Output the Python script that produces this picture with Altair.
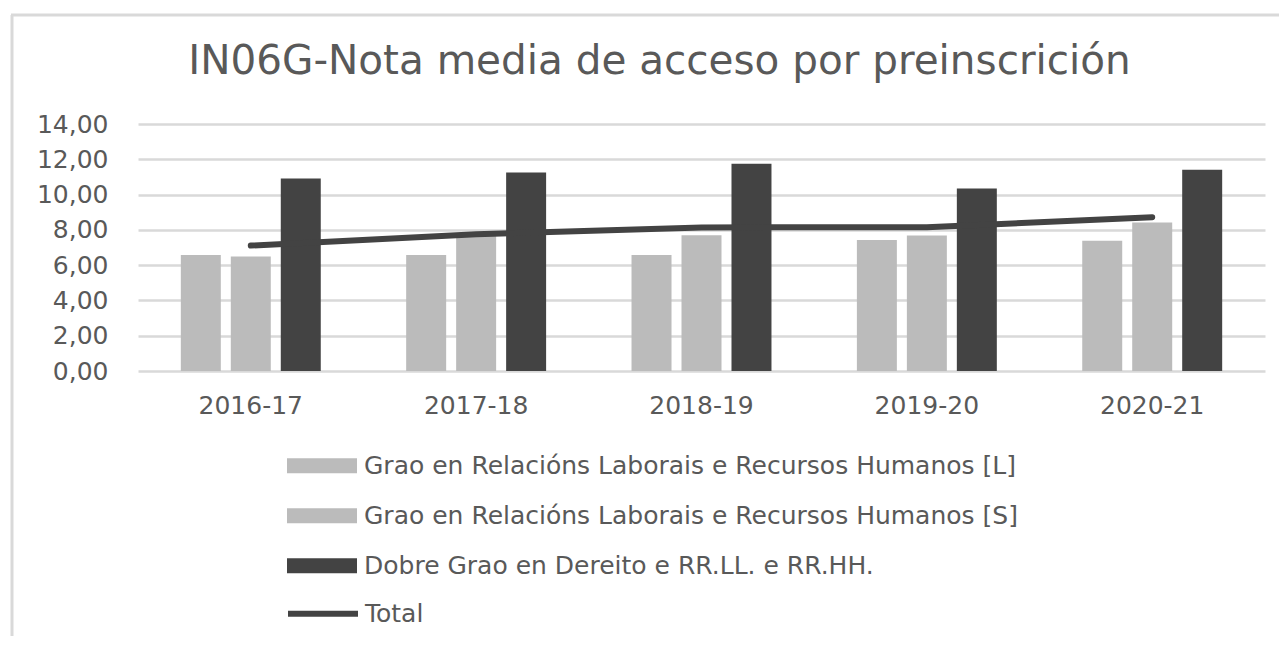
import altair as alt
import pandas as pd

cursos = ["2016-17", "2017-18", "2018-19", "2019-20", "2020-21"]
series = [
    "Grao en Relacións Laborais e Recursos Humanos [L]",
    "Grao en Relacións Laborais e Recursos Humanos [S]",
    "Dobre Grao en Dereito e RR.LL. e RR.HH.",
]
valores_L = [6.57, 6.57, 6.57, 7.43, 7.38]
valores_S = [6.49, 7.66, 7.70, 7.68, 8.42]
valores_D = [10.91, 11.25, 11.75, 10.35, 11.41]
total = [7.11, 7.75, 8.14, 8.15, 8.72]
y_ticks = [0, 2, 4, 6, 8, 10, 12, 14]
colores = ["#bbbbbb", "#bbbbbb", "#434343"]

filas = []
for serie, vals in zip(series, [valores_L, valores_S, valores_D]):
    for c, v in zip(cursos, vals):
        filas.append({"curso": c, "serie": serie, "valor": v})
df_bars = pd.DataFrame(filas)
df_line = pd.DataFrame({"curso": cursos, "valor": total, "linea": ["Total"] * len(cursos)})

FONT = "DejaVu Sans"
GREY_TXT = "#595959"

xscale = alt.Scale(domain=cursos, paddingInner=0.379, paddingOuter=0.19)
yscale = alt.Scale(domain=[0, 14], nice=False)
yaxis = alt.Axis(
    values=y_ticks,
    labelExpr="replace(format(datum.value, '.2f'), '.', ',')",
    title=None, domain=False, ticks=False, grid=True,
    gridColor="#d9d9d9", gridWidth=2.5, labelOverlap=False,
    labelFont=FONT, labelFontSize=25, labelColor=GREY_TXT, labelPadding=30,
)
xaxis = alt.Axis(
    title=None, domain=False, ticks=False, labelAngle=0,
    labelFont=FONT, labelFontSize=25, labelColor=GREY_TXT, labelPadding=22,
)

bars = alt.Chart(df_bars).mark_bar().encode(
    x=alt.X("curso:N", scale=xscale, axis=xaxis, sort=cursos),
    xOffset=alt.XOffset("serie:N", sort=series,
                        scale=alt.Scale(domain=series, paddingInner=0.2, paddingOuter=0)),
    y=alt.Y("valor:Q", scale=yscale, axis=yaxis),
    color=alt.Color(
        "serie:N", sort=series,
        scale=alt.Scale(domain=series, range=colores),
        legend=alt.Legend(
            title=None, orient="none", legendX=149, legendY=317, direction="vertical",
            symbolType="M-1,-0.214H1V0.214H-1Z", symbolSize=4900, symbolStrokeWidth=0,
            symbolOpacity=1, clipHeight=49.5, rowPadding=0, padding=0,
            labelFont=FONT, labelFontSize=25, labelColor=GREY_TXT, labelOffset=7,
            labelLimit=1000,
        ),
    ),
)

line = alt.Chart(df_line).mark_line(strokeWidth=6, strokeCap="round", strokeJoin="round").encode(
    x=alt.X("curso:N", scale=xscale, axis=xaxis, sort=cursos),
    y=alt.Y("valor:Q", scale=yscale, axis=yaxis),
    stroke=alt.Stroke(
        "linea:N", scale=alt.Scale(domain=["Total"], range=["#434343"]),
        legend=alt.Legend(
            title=None, orient="none", legendX=147, legendY=465,
            symbolType="stroke", symbolSize=4900, symbolStrokeWidth=6,
            clipHeight=49.5, rowPadding=0, padding=0,
            labelFont=FONT, labelFontSize=25, labelColor=GREY_TXT, labelOffset=4,
        ),
    ),
)

frame_df = pd.DataFrame({"k": [0]})
frame_left = alt.Chart(frame_df).mark_rule(color="#d9d9d9", strokeWidth=3).encode(
    x=alt.value(-126), y=alt.value(-109), y2=alt.value(540)
)
frame_top = alt.Chart(frame_df).mark_rule(color="#d9d9d9", strokeWidth=3).encode(
    x=alt.value(-127), x2=alt.value(1141), y=alt.value(-109)
)

chart = alt.layer(frame_left, frame_top, bars, line).properties(
    width=1127, height=247,
    padding={"left": 130, "top": 116, "right": 14, "bottom": 265},
    autosize=alt.AutoSizeParams(type="none"),
    title=alt.TitleParams(
        "IN06G-Nota media de acceso por preinscrición",
        font=FONT, fontSize=40.5, fontWeight="normal", color=GREY_TXT,
        anchor="middle", dx=-42, offset=0, dy=69,
    ),
).configure_view(stroke=None).resolve_scale(color="independent")

chart.save("out.html", embed_options={"renderer": "svg", "actions": False})
